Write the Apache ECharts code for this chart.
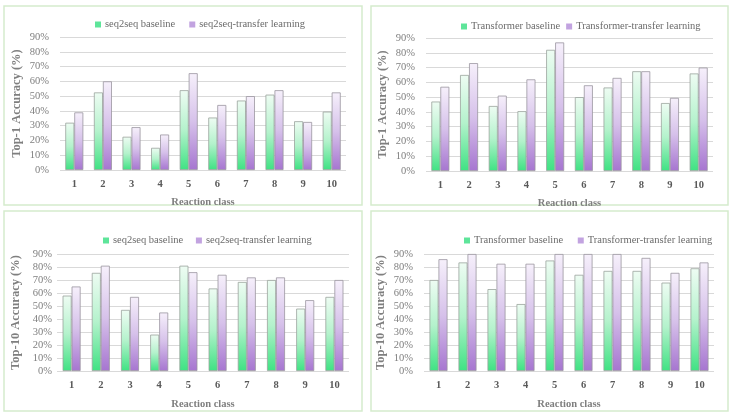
<!DOCTYPE html>
<html>
<head>
<meta charset="utf-8">
<script src="https://cdn.jsdelivr.net/npm/echarts@6/dist/echarts.min.js"></script>
<style>html,body{margin:0;padding:0;background:#fff}#c{width:732px;height:417px}</style>
</head>
<body>
<div id="c"></div>
<script>
const categories = ['1','2','3','4','5','6','7','8','9','10'];
const yTicks = [0,10,20,30,40,50,60,70,80,90];

const seqTop1Base = [32, 52.5, 22.5, 15, 54, 35.5, 47, 51, 33, 39.5];
const seqTop1Transfer = [39, 60, 29, 24, 65.5, 44, 50, 54, 32.5, 52.5];
const trfTop1Base = [47, 65, 44, 40.5, 82, 50, 56.5, 67.5, 46, 66];
const trfTop1Transfer = [57, 73, 51, 62, 87, 58, 63, 67.5, 49.5, 70];
const seqTop10Base = [58, 75.5, 47, 28, 81, 63.5, 68.5, 70, 48, 57];
const seqTop10Transfer = [65, 81, 57, 45, 76, 74, 72, 72, 54.5, 70];
const trfTop10Base = [70, 83.5, 63, 51.5, 85, 74, 77, 77, 68, 79];
const trfTop10Transfer = [86, 90, 82.5, 82.5, 90, 90, 90, 87, 75.5, 83.5];

const legendNames = [
  ['seq2seq baseline','seq2seq-transfer learning'],
  ['Transformer baseline','Transformer-transfer learning'],
  ['seq2seq baseline ','seq2seq-transfer learning '],
  ['Transformer baseline ','Transformer-transfer learning ']
];
const yTitles = ['Top-1 Accuracy (%)','Top-1 Accuracy (%)','Top-10 Accuracy (%)','Top-10 Accuracy (%)'];
const xTitle = 'Reaction class';
const seriesData = [
  [seqTop1Base, seqTop1Transfer],
  [trfTop1Base, trfTop1Transfer],
  [seqTop10Base, seqTop10Transfer],
  [trfTop10Base, trfTop10Transfer]
];

const FONT = '"Liberation Serif","DejaVu Serif",serif';
const greenGrad = {type:'linear',x:0,y:0,x2:0,y2:1,colorStops:[{offset:0,color:'#eefcf3'},{offset:0.5,color:'#b4f2cc'},{offset:1,color:'#3fe283'}]};
const purpleGrad = {type:'linear',x:0,y:0,x2:0,y2:1,colorStops:[{offset:0,color:'#f6f0fb'},{offset:0.5,color:'#d6c1ea'},{offset:1,color:'#a675d0'}]};

const grids = [
  {left:60, top:37, width:286, height:133},
  {left:426, top:38, width:287, height:133},
  {left:57, top:254, width:292, height:117},
  {left:424, top:254, width:290, height:117}
];
const legendPos = [
  {left:90, top:14, itemGap:14},
  {left:456, top:16, itemGap:6},
  {left:98, top:230, itemGap:10},
  {left:459, top:230, itemGap:12}
];
const panels = [
  {x:4,y:6,w:358,h:199},
  {x:371,y:6,w:357,h:199},
  {x:4,y:211,w:358,h:200},
  {x:371,y:211,w:357,h:200}
];

const option = {
  animation:false,
  backgroundColor:'#ffffff',
  graphic: panels.map(p=>({type:'rect',shape:{x:p.x,y:p.y,width:p.w,height:p.h},style:{fill:'none',stroke:'#d5ebcd',lineWidth:1.5},silent:true,z:-1})),
  grid: grids,
  legend: legendPos.map((l,i)=>({
    left:l.left, top:l.top, itemGap:l.itemGap, itemWidth:6, itemHeight:6, icon:'rect',
    itemStyle:{borderWidth:0},
    data:[{name:legendNames[i][0],itemStyle:{color:'#5ee59a',borderWidth:0}},{name:legendNames[i][1],itemStyle:{color:'#c2a3e0',borderWidth:0}}],
    textStyle:{fontFamily:FONT,fontSize:10.5,color:'#6b6b6b',padding:[0,0,0,-1]}
  })),
  xAxis: grids.map((g,i)=>({
    type:'category', gridIndex:i, data:categories,
    axisLine:{show:false}, axisTick:{show:false},
    axisLabel:{fontFamily:FONT,fontSize:10.5,fontWeight:'bold',color:'#595959',margin:9},
    name:xTitle, nameLocation:'middle', nameGap:i<2?27:28,
    nameTextStyle:{fontFamily:FONT,fontSize:10.5,fontWeight:'bold',color:'#7f7f7f'}
  })),
  yAxis: grids.map((g,i)=>({
    type:'value', gridIndex:i, min:0, max:90, interval:10,
    axisLine:{show:false}, axisTick:{show:false},
    splitLine:{lineStyle:{color:'#d9d9d9',width:1}},
    axisLabel:{formatter:v=>v+'%',fontFamily:FONT,fontSize:10.5,color:'#7f7f7f',margin:i===2?5:11},
    name:yTitles[i], nameLocation:'middle', nameRotate:90, nameGap:i===0?37:(i===1?37:(i===2?35:37)),
    nameTextStyle:{fontFamily:FONT,fontSize:12.5,fontWeight:'bold',color:'#7f7f7f'}
  })),
  series: []
};
seriesData.forEach((pair,i)=>{
  option.series.push({
    type:'bar', name:legendNames[i][0], xAxisIndex:i, yAxisIndex:i, data:pair[0],
    barWidth:9, barGap:'0%',
    itemStyle:{color:greenGrad,borderColor:'#9aa39d',borderWidth:0.8}
  });
  option.series.push({
    type:'bar', name:legendNames[i][1], xAxisIndex:i, yAxisIndex:i, data:pair[1],
    barWidth:9, barGap:'0%',
    itemStyle:{color:purpleGrad,borderColor:'#9a95a0',borderWidth:0.8}
  });
});
const chart = echarts.init(document.getElementById('c'));
chart.setOption(option);
</script>
</body>
</html>
